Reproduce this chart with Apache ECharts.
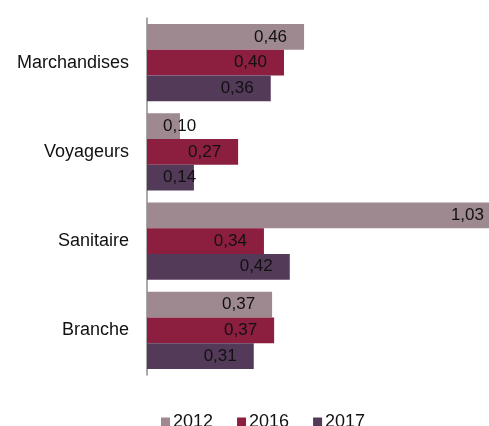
<!DOCTYPE html>
<html><head><meta charset="utf-8">
<script src="https://cdn.jsdelivr.net/npm/echarts@6/dist/echarts.min.js"></script>
<style>html,body{margin:0;padding:0;background:#fff}#c{width:489px;height:426px}</style>
</head><body><div id="c"></div>
<script>
var categories = ['Marchandises', 'Voyageurs', 'Sanitaire', 'Branche'];
var seriesNames = ['2012', '2016', '2017'];
var values2012 = [0.462, 0.097, 1.03, 0.368];
var values2016 = [0.403, 0.268, 0.344, 0.374];
var values2017 = [0.364, 0.138, 0.42, 0.314];
var colors = ['#9E8990', '#8C1F40', '#533A59'];

var FONT = 'Liberation Sans, Arial, sans-serif';
var AXIS_MAX = 1.006;
function fmt(p) { return p.value.toFixed(2).replace('.', ','); }
function items(arr) {
  return arr.map(function (v) {
    if (v < 0.2) return { value: v, label: { position: 'insideLeft', distance: 16 } };
    if (v > AXIS_MAX) return { value: v, label: { distance: 5 } };
    return v;
  });
}
var all = [values2012, values2016, values2017];
var series = all.map(function (arr, i) {
  return {
    name: seriesNames[i], type: 'bar', data: items(arr),
    barGap: '0%', barCategoryGap: '13.7%', clip: true,
    itemStyle: { color: colors[i] },
    label: { show: true, position: 'insideRight', distance: 17, formatter: fmt,
      color: '#111', fontFamily: FONT, fontSize: 17 }
  };
});
var chart = echarts.init(document.getElementById('c'), null, { renderer: 'canvas' });
chart.setOption({
  animation: false,
  color: colors,
  grid: { left: 147, top: 18, bottom: 51, right: 0 },
  xAxis: { type: 'value', min: 0, max: AXIS_MAX, axisLine: { show: false }, axisTick: { show: false },
    axisLabel: { show: false }, splitLine: { show: false } },
  yAxis: { type: 'category', inverse: true, data: categories,
    axisLine: { show: true, lineStyle: { color: '#8c8c8c', width: 1.5 } },
    axisTick: { show: false },
    axisLabel: { margin: 18, fontSize: 18, color: '#111', fontFamily: FONT } },
  legend: { data: seriesNames, left: 156, top: 408, itemWidth: 9, itemHeight: 9, itemGap: 24,
    icon: 'rect', textStyle: { fontSize: 18, color: '#111', fontFamily: FONT, padding: [0, 0, 0, -2] } },
  series: series
});
</script></body></html>
